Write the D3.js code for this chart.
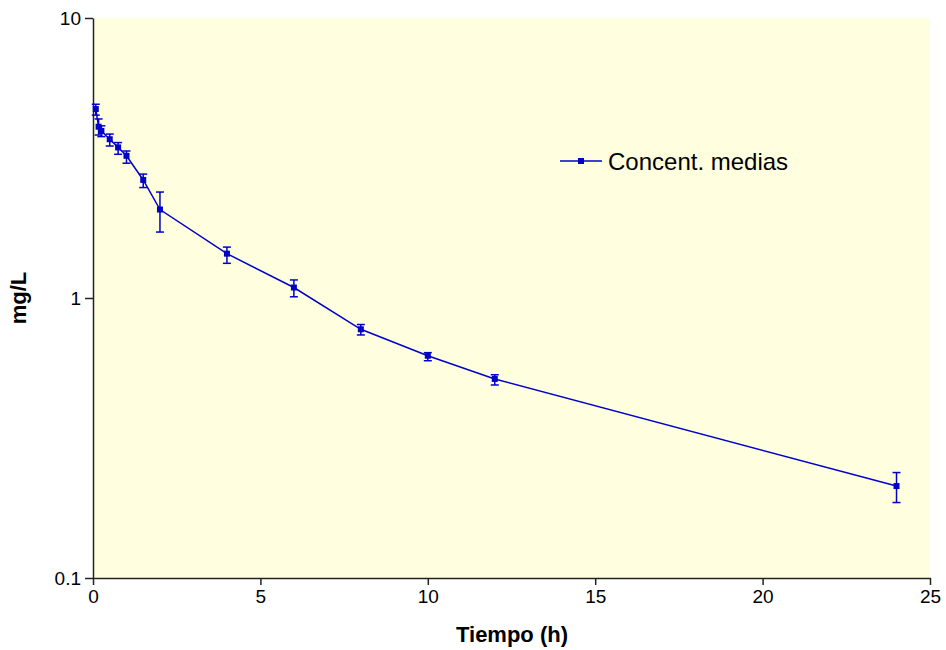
<!DOCTYPE html>
<html>
<head>
<meta charset="utf-8">
<script src="https://cdn.jsdelivr.net/npm/d3@7"></script>
<style>
  body { margin: 0; background: #fff; }
  svg { display: block; font-family: "Liberation Sans", Arial, sans-serif; }
</style>
</head>
<body>
<div id="chart"></div>
<script>
// tiempo (h) y concentración media (mg/L) con error superior / inferior
const tiempos = [0.083, 0.167, 0.25, 0.5, 0.75, 1, 1.5, 2, 4, 6, 8, 10, 12, 24];
const medias  = [4.73, 4.09, 3.95, 3.69, 3.45, 3.22, 2.64, 2.07, 1.44, 1.09, 0.773, 0.622, 0.514, 0.213];
const errSup  = [4.92, 4.36, 4.12, 3.85, 3.59, 3.35, 2.77, 2.39, 1.52, 1.16, 0.804, 0.638, 0.532, 0.238];
const errInf  = [4.50, 3.82, 3.77, 3.49, 3.26, 3.03, 2.48, 1.72, 1.33, 1.01, 0.738, 0.597, 0.489, 0.186];
const xTicks = [0, 5, 10, 15, 20, 25];
const yTicks = [0.1, 1, 10];
const serie = "Concent. medias";

const data = tiempos.map((t, i) => ({t: t, y: medias[i], hi: errSup[i], lo: errInf[i]}));

const width = 946, height = 650;
const margin = {top: 18, right: 16, bottom: 72, left: 93};
const innerWidth = width - margin.left - margin.right,
  innerHeight = height - margin.top - margin.bottom;
const color = "#0000c8";

const svg = d3.select("#chart").append("svg")
    .attr("width", width)
    .attr("height", height);

const g = svg.append("g")
    .attr("transform", "translate(" + margin.left + "," + margin.top + ")");

const xScale = d3.scaleLinear().domain([0, 25]).range([0, innerWidth]);
const yScale = d3.scaleLog().domain([0.1, 10]).range([innerHeight, 0]);

g.append("rect")
    .attr("width", innerWidth)
    .attr("height", innerHeight)
    .attr("fill", "#ffffe0");

const xAxis = g.append("g")
    .attr("transform", "translate(0," + innerHeight + ")")
    .call(d3.axisBottom(xScale).tickValues(xTicks).tickSize(7).tickSizeOuter(0));

const yAxis = g.append("g")
    .call(d3.axisLeft(yScale).tickValues(yTicks).tickFormat(d3.format("")).tickSize(8).tickSizeOuter(0));

[xAxis, yAxis].forEach(a => {
  a.attr("font-size", 19).attr("font-family", "Liberation Sans, Arial, sans-serif");
  a.select(".domain").attr("stroke", "#222").attr("stroke-width", 1.5);
  a.selectAll(".tick line").attr("stroke", "#222").attr("stroke-width", 1.5);
  a.selectAll("text").attr("fill", "#000");
});
xAxis.selectAll("text").attr("y", 11).attr("dy", "0.75em");
yAxis.selectAll("text").attr("x", -12);

// línea
g.append("path")
    .datum(data)
    .attr("fill", "none")
    .attr("stroke", color)
    .attr("stroke-width", 1.5)
    .attr("d", d3.line().x(d => xScale(d.t)).y(d => yScale(d.y)));

// barras de error
const err = g.selectAll(".err").data(data).enter().append("g").attr("class", "err")
    .attr("stroke", color).attr("stroke-width", 1.5);
err.append("line")
    .attr("x1", d => xScale(d.t)).attr("x2", d => xScale(d.t))
    .attr("y1", d => yScale(d.hi)).attr("y2", d => yScale(d.lo));
err.append("line")
    .attr("x1", d => xScale(d.t) - 4).attr("x2", d => xScale(d.t) + 4)
    .attr("y1", d => yScale(d.hi)).attr("y2", d => yScale(d.hi));
err.append("line")
    .attr("x1", d => xScale(d.t) - 4).attr("x2", d => xScale(d.t) + 4)
    .attr("y1", d => yScale(d.lo)).attr("y2", d => yScale(d.lo));

// marcadores
g.selectAll(".point").data(data).enter().append("rect")
    .attr("class", "point")
    .attr("x", d => xScale(d.t) - 3)
    .attr("y", d => yScale(d.y) - 3)
    .attr("width", 6).attr("height", 6)
    .attr("fill", color);

// leyenda
const leg = svg.append("g").attr("transform", "translate(560,161)");
leg.append("line").attr("x1", 0).attr("x2", 42).attr("y1", 0).attr("y2", 0)
    .attr("stroke", color).attr("stroke-width", 1.5);
leg.append("rect").attr("x", 18).attr("y", -3).attr("width", 6).attr("height", 6).attr("fill", color);
leg.append("text").attr("x", 48).attr("y", 9).attr("font-size", 24).attr("fill", "#000").text(serie);

// títulos de ejes
svg.append("text")
    .attr("x", 512)
    .attr("y", 642)
    .attr("text-anchor", "middle")
    .attr("font-size", 22).attr("font-weight", "bold")
    .text("Tiempo (h)");

svg.append("text")
    .attr("transform", "translate(26," + (margin.top + innerHeight / 2) + ") rotate(-90)")
    .attr("text-anchor", "middle")
    .attr("font-size", 22).attr("font-weight", "bold")
    .text("mg/L");
</script>
</body>
</html>
